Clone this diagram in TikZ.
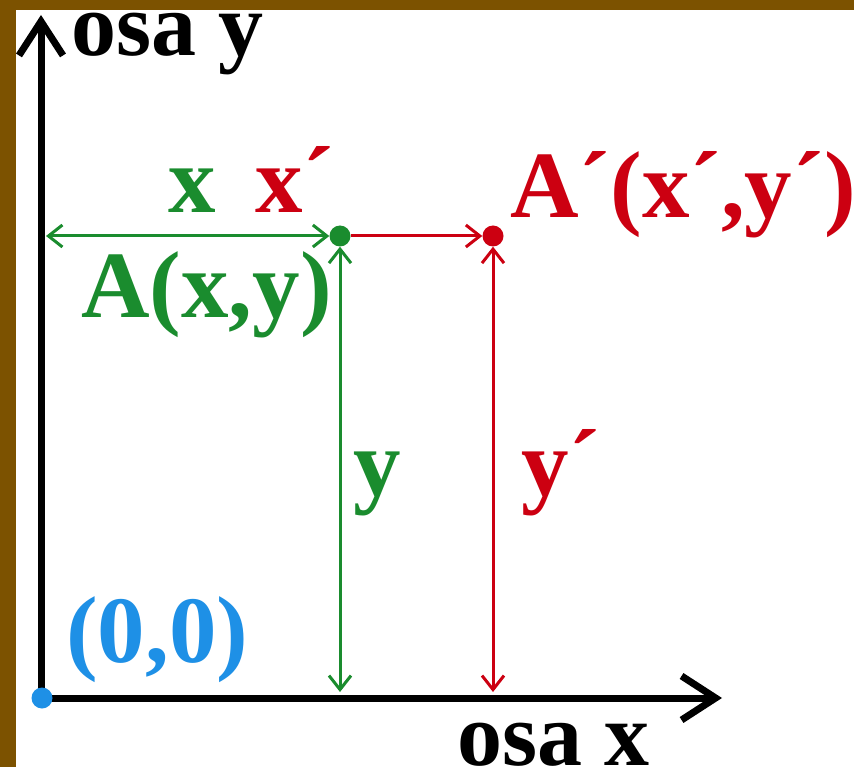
\documentclass[tikz,border=0pt]{standalone}
\usepackage{fontspec}
\setmainfont{Liberation Serif}
\usetikzlibrary{arrows.meta}
\definecolor{gr}{RGB}{26,140,46}
\definecolor{rd}{RGB}{204,0,17}
\definecolor{bl}{RGB}{30,144,230}
\definecolor{br}{RGB}{124,82,0}
\tikzset{
  lbl/.style={anchor=base west,inner sep=0pt,font=\bfseries\fontsize{95}{100}\selectfont},
  axislbl/.style={anchor=base west,inner sep=0pt,font=\bfseries\fontsize{90}{100}\selectfont},
  axis/.style={line width=7pt,black,-{Straight Barb[length=34pt,width=44pt]}},
  carrow/.style={line width=3pt,{Straight Barb[length=14pt,width=22pt]}-{Straight Barb[length=14pt,width=22pt]}},
  rarrow/.style={line width=3pt,-{Straight Barb[length=14pt,width=22pt]}},
  dot/.style={circle,inner sep=0pt,minimum size=21pt}
}
\begin{document}
\begin{tikzpicture}[x=1pt,y=-1pt]
\useasboundingbox (0,0) rectangle (854,767);
\clip (0,0) rectangle (854,767);
\fill[white] (0,0) rectangle (854,767);
\fill[br] (0,0) rectangle (854,10);
\fill[br] (0,0) rectangle (16,767);
% axes
\coordinate (O) at (41,698);
\coordinate (ytop) at (41,15);
\coordinate (xend) at (722,698);
\draw[axis] (O) -- (ytop);
\draw[axis] (O) -- (xend);
\node[dot,fill=bl] (orig) at (42,698) {};
% points
\node[dot,fill=gr] (A) at (340,236) {};
\node[dot,fill=rd] (Ap) at (493,236) {};
\coordinate (L) at (46,236);
\coordinate (gb) at (340,692);
\coordinate (rb) at (493,692);
\draw[carrow,gr] (L) -- (A.west);
\draw[rarrow,rd] (A.east) -- (Ap.west);
\draw[carrow,gr] (A.south) -- (gb);
\draw[carrow,rd] (Ap.south) -- (rb);
% labels
\node[axislbl,black] (osay) at (71,56) {osa y};
\node[axislbl,black] (osax) at (457,765) {osa x};
\node[lbl,gr] (lx) at (168,213) {x};
\node[lbl,rd] (lxp) at (255,213) {x´};
\node[lbl,gr] (lA) at (81,317) {A(x,y)};
\node[lbl,rd] (lAp) at (510,218) {A´(x´,y´)};
\node[lbl,gr] (ly) at (353,495) {y};
\node[lbl,rd] (lyp) at (521,495) {y´};
\node[lbl,bl] (lO) at (66,662) {(0,0)};
\end{tikzpicture}
\end{document}
